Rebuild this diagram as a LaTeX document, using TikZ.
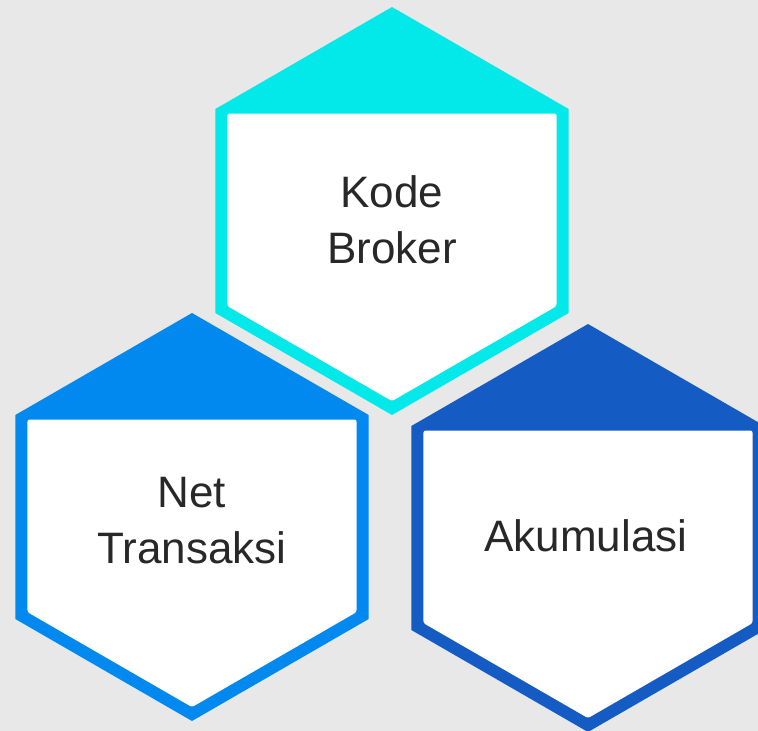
\documentclass[tikz,border=0pt]{standalone}
\usepackage{fontspec}
\setmainfont{Liberation Sans}
\definecolor{bg}{RGB}{232,232,232}
\definecolor{hexcyan}{RGB}{3,233,233}
\definecolor{hexblue}{RGB}{2,137,240}
\definecolor{hexnavy}{RGB}{21,91,196}
\definecolor{txt}{RGB}{40,40,40}
\newcommand\hexshape[3]{%
  \fill[#3] (#1,#2-204) -- (#1+176.67,#2-102) -- (#1+176.67,#2+102) -- (#1,#2+204) -- (#1-176.67,#2+102) -- (#1-176.67,#2-102) -- cycle;
  \fill[white, rounded corners=2.5pt] (#1-164.67,#2-97.5) -- (#1+164.67,#2-97.5) -- (#1+164.67,#2+95.05) -- (#1,#2+190.1) -- (#1-164.67,#2+95.05) -- cycle;
}
\begin{document}
\begin{tikzpicture}[x=1pt,y=-1pt,
  lbl/.style={font=\fontsize{44}{56}\selectfont, align=center, text=txt, inner sep=0pt}]
\useasboundingbox (0,0) rectangle (758,731);
\clip (0,0) rectangle (758,731);
\fill[bg] (0,0) rectangle (758,731);
\hexshape{392}{211}{hexcyan}
\hexshape{192}{517}{hexblue}
\hexshape{588}{528}{hexnavy}
\node[lbl] (kode) at (392,220) {Kode\\Broker};
\node[lbl] (net) at (192,521) {Net\\Transaksi};
\node[lbl] (akum) at (586,536) {Akumulasi};
\end{tikzpicture}
\end{document}
